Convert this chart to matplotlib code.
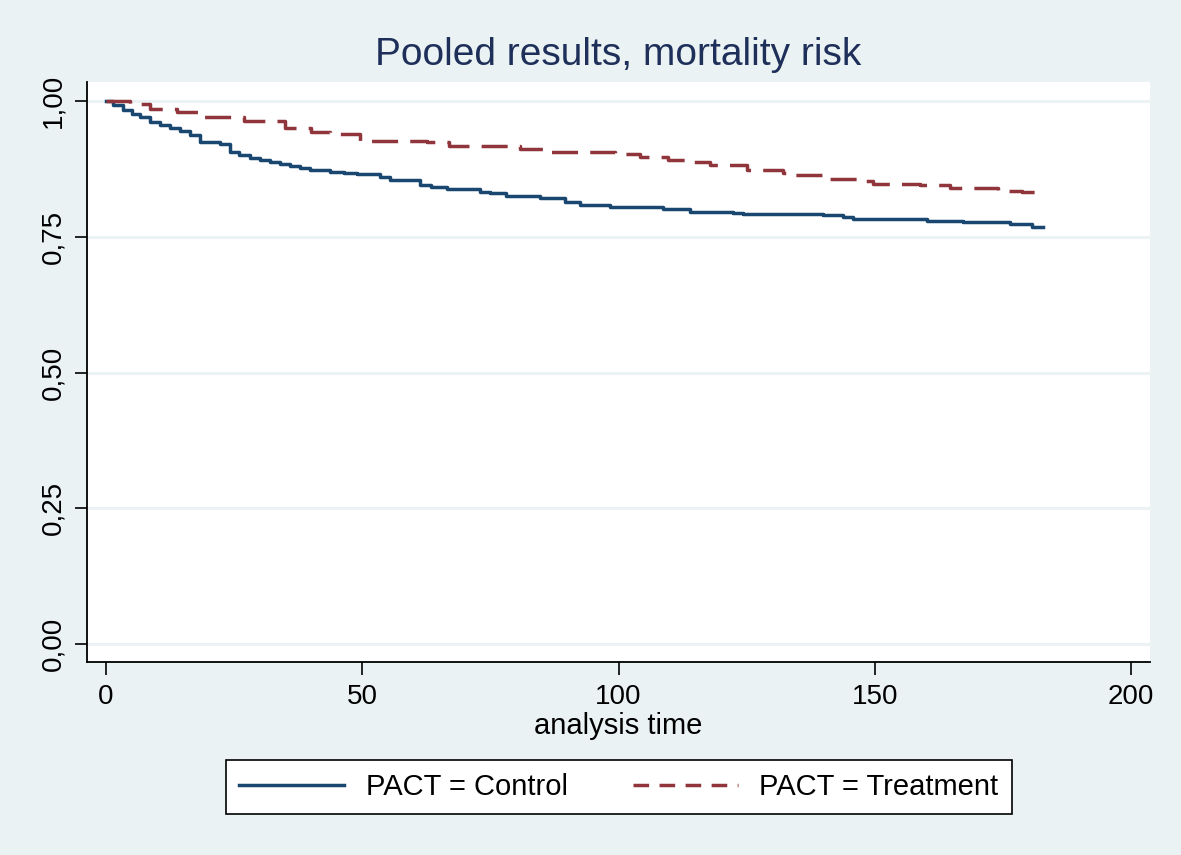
import matplotlib
matplotlib.use('Agg')
import matplotlib.pyplot as plt

plt.rcParams['font.family'] = ['Liberation Sans', 'DejaVu Sans']

# Kaplan-Meier estimates (time in days, survival)
t_control = [0, 1.4, 3.3, 5.0, 6.6, 8.6, 10.5, 12.5, 14.5, 16.4, 18.3, 22.2, 24.2,
             26.0, 28.1, 30.0, 32.0, 34.0, 35.9, 37.8, 39.8, 43.7, 46.5, 49.0,
             53.5, 55.4, 61.3, 63.5, 66.5, 73.0, 75.0, 78.0, 84.7, 89.5, 92.5,
             98.3, 108.7, 114.0, 122.3, 124.3, 139.9, 143.8, 145.8, 149.5, 160.2,
             167.2, 176.4, 180.7, 182.8]
s_control = [1.000, 0.993, 0.983, 0.977, 0.971, 0.962, 0.956, 0.950, 0.944, 0.937,
             0.925, 0.921, 0.907, 0.901, 0.896, 0.892, 0.888, 0.884, 0.880, 0.877,
             0.873, 0.870, 0.868, 0.866, 0.861, 0.855, 0.845, 0.842, 0.838, 0.832,
             0.830, 0.826, 0.821, 0.815, 0.808, 0.805, 0.801, 0.796, 0.793, 0.792,
             0.790, 0.786, 0.783, 0.782, 0.779, 0.777, 0.773, 0.769, 0.769]

t_treat = [0, 3.0, 4.7, 8.6, 13.9, 18.3, 27.0, 35.0, 40.0, 43.7, 49.6, 62.6,
           67.0, 80.8, 85.7, 99.3, 104.2, 109.7, 114.0, 117.9, 125.0, 132.0,
           134.4, 141.3, 147.0, 149.7, 158.8, 164.7, 174.0, 178.7, 181.3]
s_treat = [1.000, 1.000, 0.994, 0.985, 0.979, 0.970, 0.963, 0.950, 0.943, 0.939,
           0.927, 0.925, 0.918, 0.911, 0.906, 0.902, 0.897, 0.892, 0.887, 0.883,
           0.874, 0.867, 0.864, 0.857, 0.853, 0.848, 0.845, 0.840, 0.834, 0.832,
           0.832]

x_ticks = [0, 50, 100, 150, 200]
y_ticks = [0, 0.25, 0.5, 0.75, 1.0]
y_labels = ['0,00', '0,25', '0,50', '0,75', '1,00']

bg = '#eaf2f3'
navy = '#1a476f'
maroon = '#90353b'

fig = plt.figure(figsize=(11.81, 8.55), dpi=100, facecolor=bg)
ax = fig.add_axes([0.0737, 0.2257, 0.9001, 0.6783])
ax.set_facecolor('white')

ax.plot(t_control, s_control, drawstyle='steps-post', color=navy, lw=2.5,
        label='PACT = Control')
ax.plot(t_treat, s_treat, drawstyle='steps-post', color=maroon, lw=2.5,
        dashes=(7.5, 3.5), label='PACT = Treatment')

ax.set_xlim(-3.7, 203.7)
ax.set_ylim(-0.033, 1.035)
ax.set_xticks(x_ticks)
ax.set_yticks(y_ticks)
ax.set_yticklabels(y_labels, rotation=90, va='center')
ax.tick_params(axis='both', length=9, width=1.2, labelsize=20, color='black')
ax.tick_params(axis='x', pad=7)
ax.tick_params(axis='y', pad=6)
ax.grid(axis='y', color=bg, lw=2.2)
ax.set_axisbelow(True)
for side in ['top', 'right']:
    ax.spines[side].set_visible(False)
for side in ['left', 'bottom']:
    ax.spines[side].set_linewidth(1.3)

ax.set_xlabel('analysis time', fontsize=21, labelpad=1)
ax.set_title('Pooled results, mortality risk', fontsize=28, color='#1e2f5a', pad=12)

leg = fig.legend(loc='center', bbox_to_anchor=(619 / 1181, 1 - 787 / 855), ncol=2,
                 fontsize=21, frameon=True, fancybox=False, edgecolor='black',
                 framealpha=1, handlelength=3.6, handletextpad=0.75,
                 columnspacing=2.2, borderpad=0.45)
leg.get_frame().set_linewidth(1.2)
leg.get_lines()[1].set_dashes((4.5, 3))

plt.savefig('out.png', dpi=100, facecolor=bg)
